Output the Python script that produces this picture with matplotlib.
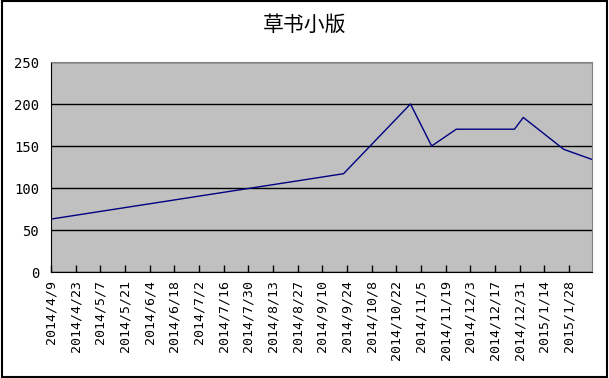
import pandas as pd
import matplotlib
matplotlib.use('Agg')
import matplotlib.pyplot as plt
import matplotlib.dates as mdates
from matplotlib.patches import Rectangle

plt.rcParams['font.family'] = ['Noto Sans CJK SC', 'DejaVu Sans']

# 数据
title = '草书小版'
dates = ['2014/4/9', '2014/9/22', '2014/10/30', '2014/11/11', '2014/11/25',
         '2014/12/28', '2015/1/2', '2015/1/25', '2015/2/10']
values = [63, 117, 200, 150, 170, 170, 184, 146, 134]
y_ticks = [0, 50, 100, 150, 200, 250]

x = pd.to_datetime(dates, format='%Y/%m/%d')
tick_dates = pd.date_range('2014-04-09', '2015-01-28', freq='14D')
tick_labels = [f'{d.year}/{d.month}/{d.day}' for d in tick_dates]

fig = plt.figure(figsize=(6.09, 3.78), dpi=100)
ax = fig.add_axes([51 / 609, 1 - 272 / 378, (592 - 51) / 609, (272 - 62) / 378])

ax.set_facecolor('#c0c0c0')
ax.plot(x, values, color='#000080', lw=1)

ax.set_xlim(x[0], x[-1])
ax.set_ylim(0, 250)
ax.set_yticks(y_ticks)
ax.yaxis.grid(True, color='black', lw=1)
ax.set_axisbelow(True)

ax.set_xticks(mdates.date2num(tick_dates))
ax.set_xticklabels(tick_labels, rotation=90, family='DejaVu Sans Mono', fontsize=9.5)
ax.tick_params(axis='x', direction='in', length=5, width=1, color='black', pad=6)
ax.tick_params(axis='y', length=0, pad=8.5, labelsize=10)
for lab in ax.get_yticklabels():
    lab.set_family('DejaVu Sans Mono')

for s in ['left', 'bottom']:
    ax.spines[s].set_color('black')
for s in ['top', 'right']:
    ax.spines[s].set_color('#808080')

fig.suptitle(title, y=1 - 25 / 378, va='center', fontsize=15, fontweight='medium')

# 外框
fig.patches.append(Rectangle((2 / 609, 1 / 378), 605 / 609, 376 / 378,
                             transform=fig.transFigure, fill=False,
                             edgecolor='black', lw=1.5))

fig.savefig('out.png', dpi=100)
